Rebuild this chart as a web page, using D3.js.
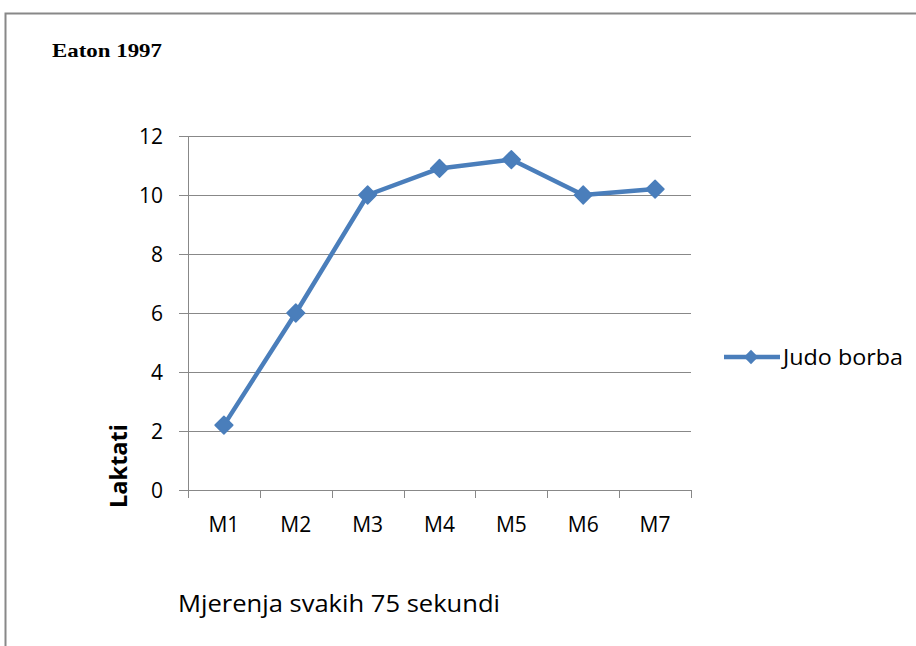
<!DOCTYPE html>
<html>
<head>
<meta charset="utf-8">
<script src="https://cdn.jsdelivr.net/npm/d3@7"></script>
<style>
  body { margin: 0; background: #fff; }
  svg { display: block; }
</style>
</head>
<body>
<div id="chart"></div>
<script>
// podaci
var categories = ["M1", "M2", "M3", "M4", "M5", "M6", "M7"];
var laktati = [2.2, 6.0, 10.0, 10.9, 11.2, 10.0, 10.2];
var yTicks = [0, 2, 4, 6, 8, 10, 12];
var seriesName = "Judo borba";

var width = 916, height = 646;
var lineColor = "#4a7ebb";
var sansFont = "Open Sans, Liberation Sans, Arial, sans-serif";

var svg = d3.select("#chart").append("svg")
    .attr("width", width)
    .attr("height", height);

// okvir (gornja i lijeva linija)
svg.append("path")
    .attr("d", "M5.5,646 L5.5,13.5 L916,13.5")
    .attr("fill", "none")
    .attr("stroke", "#888")
    .attr("stroke-width", 2);

var x = d3.scaleBand()
    .domain(categories)
    .range([188, 691]);

var y = d3.scaleLinear()
    .domain([0, 12])
    .range([490, 136]);

// mreza
svg.append("g")
    .selectAll("line")
    .data(yTicks)
    .enter()
    .append("line")
    .attr("x1", 179)
    .attr("x2", 691)
    .attr("y1", function(d){ return Math.round(y(d)) + 0.5; })
    .attr("y2", function(d){ return Math.round(y(d)) + 0.5; })
    .attr("stroke", "#888")
    .attr("stroke-width", 1);

// y os
svg.append("line")
    .attr("x1", 188.5).attr("x2", 188.5)
    .attr("y1", y(12)).attr("y2", y(0))
    .attr("stroke", "#888");

svg.append("g")
    .selectAll("text")
    .data(yTicks)
    .enter()
    .append("text")
    .attr("x", 163)
    .attr("y", function(d){ return y(d); })
    .attr("dy", "0.36em")
    .attr("text-anchor", "end")
    .attr("font-family", sansFont)
    .attr("font-size", 21)
    .attr("fill", "#000")
    .text(function(d){ return d; });

// x os - crtice izmedju kategorija
var xTickPos = categories.map(function(c){ return x(c); }).concat([x.range()[1]]);
svg.append("g")
    .selectAll("line")
    .data(xTickPos)
    .enter()
    .append("line")
    .attr("x1", function(d){ return Math.round(d) + 0.5; })
    .attr("x2", function(d){ return Math.round(d) + 0.5; })
    .attr("y1", y(0))
    .attr("y2", y(0) + 8)
    .attr("stroke", "#888");

svg.append("g")
    .selectAll("text")
    .data(categories)
    .enter()
    .append("text")
    .attr("x", function(d){ return x(d) + x.bandwidth() / 2; })
    .attr("y", 532)
    .attr("text-anchor", "middle")
    .attr("font-family", sansFont)
    .attr("font-size", 21)
    .attr("fill", "#000")
    .text(function(d){ return d; });

// linija
var line = d3.line()
    .x(function(d, i){ return x(categories[i]) + x.bandwidth() / 2; })
    .y(function(d){ return y(d); });

svg.append("path")
    .datum(laktati)
    .attr("d", line)
    .attr("fill", "none")
    .attr("stroke", lineColor)
    .attr("stroke-width", 4.5)
    .attr("stroke-linejoin", "round");

var diamond = d3.symbol().type(d3.symbolDiamond2).size(200);

svg.append("g")
    .selectAll("path")
    .data(laktati)
    .enter()
    .append("path")
    .attr("d", diamond)
    .attr("transform", function(d, i){
        return "translate(" + (x(categories[i]) + x.bandwidth() / 2) + "," + y(d) + ")";
    })
    .attr("fill", lineColor)
    .attr("stroke", lineColor)
    .attr("stroke-width", 1.5)
    .attr("stroke-linejoin", "round");

// legenda
var legend = svg.append("g").attr("transform", "translate(724,357)");
legend.append("line")
    .attr("x1", 0).attr("x2", 56)
    .attr("y1", 0).attr("y2", 0)
    .attr("stroke", lineColor)
    .attr("stroke-width", 4.5);
legend.append("path")
    .attr("d", d3.symbol().type(d3.symbolDiamond2).size(130))
    .attr("transform", "translate(27,0)")
    .attr("fill", lineColor);
legend.append("text")
    .attr("x", 59)
    .attr("y", 0)
    .attr("dy", "0.36em")
    .attr("font-family", sansFont)
    .attr("font-size", 21)
    .attr("fill", "#000")
    .attr("textLength", 120)
    .attr("lengthAdjust", "spacingAndGlyphs")
    .text(seriesName);

// naslovi osi
svg.append("text")
    .attr("transform", "translate(127,466) rotate(-90)")
    .attr("text-anchor", "middle")
    .attr("font-family", sansFont)
    .attr("font-size", 24)
    .attr("font-weight", "bold")
    .attr("fill", "#000")
    .attr("textLength", 84)
    .attr("lengthAdjust", "spacingAndGlyphs")
    .text("Laktati");

svg.append("text")
    .attr("x", 178)
    .attr("y", 612)
    .attr("font-family", sansFont)
    .attr("font-size", 24)
    .attr("fill", "#000")
    .attr("textLength", 322)
    .attr("lengthAdjust", "spacingAndGlyphs")
    .text("Mjerenja svakih 75 sekundi");

svg.append("text")
    .attr("x", 52)
    .attr("y", 57)
    .attr("font-family", "Liberation Serif, Times New Roman, serif")
    .attr("font-size", 19)
    .attr("font-weight", "bold")
    .attr("fill", "#000")
    .attr("textLength", 110)
    .attr("lengthAdjust", "spacingAndGlyphs")
    .text("Eaton 1997");
</script>
</body>
</html>
